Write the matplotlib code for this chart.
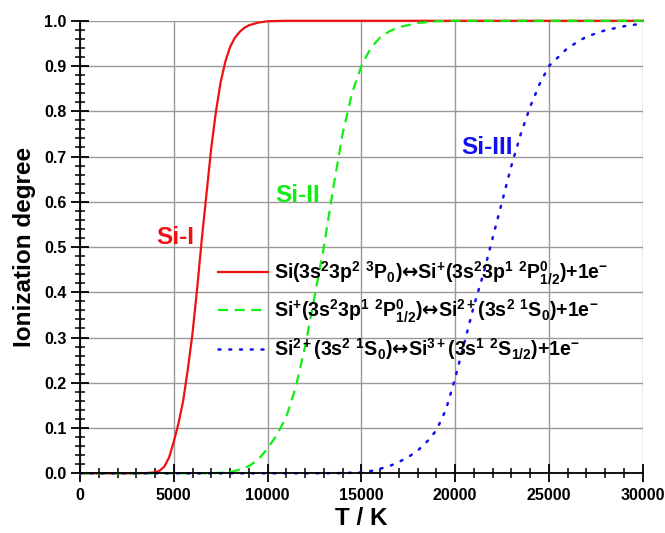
import matplotlib
matplotlib.use("Agg")
import matplotlib.pyplot as plt
from matplotlib.ticker import MultipleLocator

plt.rcParams["font.family"] = ["Liberation Sans", "DejaVu Sans"]
plt.rcParams["font.weight"] = "bold"
plt.rcParams["mathtext.fontset"] = "custom"
plt.rcParams["mathtext.rm"] = "Liberation Sans:bold"
plt.rcParams["mathtext.it"] = "Liberation Sans:bold"
plt.rcParams["mathtext.bf"] = "Liberation Sans:bold"
plt.rcParams["mathtext.sf"] = "DejaVu Sans"
plt.rcParams["mathtext.default"] = "rm"

# --- data ---
t_si1 = [0, 1000, 2000, 3000, 3500, 4000, 4250, 4500, 4750, 5000, 5250, 5500,
         5750, 6000, 6250, 6500, 6750, 7000, 7250, 7500, 7750, 8000, 8250,
         8500, 8750, 9000, 9500, 10000, 11000, 15000, 20000, 25000, 30000]
x_si1 = [0, 0, 0, 0, 0.0005, 0.002, 0.006, 0.015, 0.035, 0.07, 0.11, 0.16,
         0.23, 0.31, 0.41, 0.52, 0.62, 0.72, 0.80, 0.865, 0.91, 0.942, 0.962,
         0.975, 0.984, 0.99, 0.996, 0.999, 1.0, 1.0, 1.0, 1.0, 1.0]

t_si2 = [0, 2000, 4000, 6000, 7000, 7500, 8000, 8500, 9000, 9500, 10000,
         10500, 11000, 11500, 12000, 12500, 13000, 13500, 14000, 14500, 15000,
         15500, 16000, 16500, 17000, 18000, 19000, 20000, 25000, 30000]
x_si2 = [0, 0, 0, 0, 0.0003, 0.001, 0.003, 0.008, 0.016, 0.03, 0.055,
         0.085, 0.125, 0.19, 0.28, 0.39, 0.50, 0.63, 0.75, 0.84, 0.90,
         0.94, 0.963, 0.977, 0.986, 0.995, 0.999, 1.0, 1.0, 1.0]

t_si3 = [0, 4000, 8000, 12000, 14000, 15000, 15500, 16000, 16500, 17000,
         17500, 18000, 18500, 19000, 19500, 20000, 20500, 21000, 21500, 22000,
         22500, 23000, 23500, 24000, 24500, 25000, 26000, 27000, 28000, 29000,
         30000]
x_si3 = [0, 0, 0, 0, 0.0005, 0.002, 0.005, 0.01, 0.016, 0.025, 0.036,
         0.05, 0.07, 0.095, 0.14, 0.21, 0.29, 0.37, 0.44, 0.52, 0.60, 0.68,
         0.75, 0.81, 0.86, 0.90, 0.94, 0.965, 0.979, 0.988, 0.994]

ARROW = r"$\mathsf{↔}$"
labels = [
    r"Si(3s$^2$3p$^2$ $^3$P$_0$)" + ARROW + r"Si$^{+}$(3s$^2$3p$^1$ $^2$P$^0_{1/2}$)+1e$^{-}$",
    r"Si$^{+}$(3s$^2$3p$^1$ $^2$P$^0_{1/2}$)" + ARROW + r"Si$^{2+}$(3s$^2$ $^1$S$_0$)+1e$^{-}$",
    r"Si$^{2+}$(3s$^2$ $^1$S$_0$)" + ARROW + r"Si$^{3+}$(3s$^1$ $^2$S$_{1/2}$)+1e$^{-}$",
]

fig = plt.figure(figsize=(6.65, 5.33), dpi=100)
ax = fig.add_axes([0.1203, 0.112, 0.8462, 0.849])

ax.plot(t_si1, x_si1, color="#ee1111", lw=1.6, ls="-", label=labels[0])
ax.plot(t_si2, x_si2, color="#11ee11", lw=1.6, ls=(0, (4.5, 3)), label=labels[1])
ax.plot(t_si3, x_si3, color="#1111ee", lw=1.8, ls=(0, (0.8, 3.5)),
        dash_capstyle="round", label=labels[2])

ax.set_xlim(0, 30000)
ax.set_ylim(0, 1.0)
ax.xaxis.set_major_locator(MultipleLocator(5000))
ax.xaxis.set_minor_locator(MultipleLocator(1000))
ax.yaxis.set_major_locator(MultipleLocator(0.1))
ax.yaxis.set_minor_locator(MultipleLocator(0.02))
ax.yaxis.set_major_formatter(plt.FormatStrFormatter("%.1f"))

ax.grid(True, which="major", color="#999999", lw=1.0)
ax.set_axisbelow(True)
ax.tick_params(which="major", direction="inout", length=13.5, width=1.3,
               labelsize=11.5)
ax.tick_params(axis="y", which="major", pad=3)
ax.tick_params(axis="x", which="major", pad=4)
ax.tick_params(which="minor", direction="inout", length=7, width=1.1)
for lab in ax.get_xticklabels() + ax.get_yticklabels():
    lab.set_fontweight("bold")

for side in ("top", "right"):
    ax.spines[side].set_visible(False)
for side in ("left", "bottom"):
    ax.spines[side].set_linewidth(1.3)
ax.set_zorder(1)
for ln in ax.lines:
    ln.set_clip_on(False)

ax.set_xlabel("T / K", fontsize=17.5, fontweight="bold", labelpad=3)
ax.set_ylabel("Ionization degree", fontsize=17.5, fontweight="bold", labelpad=6)

ax.text(5100, 0.52, "Si-I", color="#ee1111", fontsize=17.5, fontweight="bold",
        ha="center", va="center")
ax.text(11600, 0.615, "Si-II", color="#11ee11", fontsize=17.5, fontweight="bold",
        ha="center", va="center")
ax.text(21700, 0.72, "Si-III", color="#1111ee", fontsize=17.5, fontweight="bold",
        ha="center", va="center")


def make_legend(fs):
    lg = ax.legend(loc="upper left", bbox_to_anchor=(0.231, 0.49), frameon=False,
                   fontsize=fs, handlelength=50 / fs * 0.72, handletextpad=0.3,
                   labelspacing=0.55, borderaxespad=0)
    for txt in lg.get_texts():
        txt.set_fontweight("bold")
    return lg


# size the legend text so the first entry is as wide as in the reference
fs = 13.0
leg = make_legend(fs)
fig.canvas.draw()
w = leg.get_texts()[0].get_window_extent(fig.canvas.get_renderer()).width
fs = fs * 334.0 / w
leg.remove()
leg = make_legend(fs)

fig.savefig("out.png", dpi=100)
